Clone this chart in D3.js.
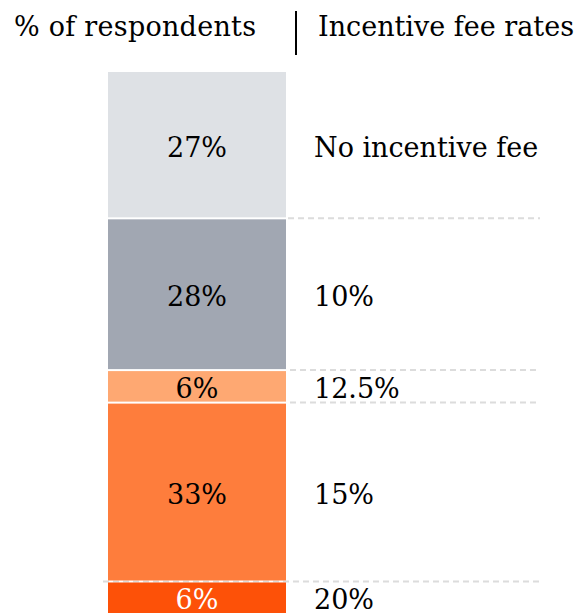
<!DOCTYPE html>
<html>
<head>
<meta charset="utf-8">
<script src="https://cdn.jsdelivr.net/npm/d3@7"></script>
<style>
  body { margin: 0; background: #fff; }
  text { font-family: Georgia, "DejaVu Serif", serif; }
</style>
</head>
<body>
<div id="chart"></div>
<script>
// data, top to bottom
const rates = ["No incentive fee", "10%", "12.5%", "15%", "20%"];
const shares = [27, 28, 6, 33, 6];
const shareLabels = ["27%", "28%", "6%", "33%", "6%"];
const colors = ["#dee1e5", "#a1a7b2", "#fea872", "#fe7d3c", "#fd5108"];
const labelColors = ["#000", "#000", "#000", "#000", "#fff"];

const WIDTH = 580;
const HEIGHT = 614;
const bar = { x0: 108, x1: 286 };

const svg = d3.select("#chart").append("svg")
  .attr("width", WIDTH)
  .attr("height", HEIGHT);

// stack the shares
let acc = 0;
const segs = shares.map((v, i) => {
  const s = { i, start: acc, end: acc + v };
  acc += v;
  return s;
});

const y = d3.scaleLinear().domain([0, 100]).range([72, 614]);

// headers
svg.append("text")
  .attr("x", 14).attr("y", 36)
  .attr("font-size", 27)
  .attr("fill", "#000")
  .attr("textLength", 242)
  .text("% of respondents");
svg.append("line")
  .attr("x1", 296).attr("x2", 296)
  .attr("y1", 11).attr("y2", 55)
  .attr("stroke", "#000").attr("stroke-width", 2);
svg.append("text")
  .attr("x", 318).attr("y", 36)
  .attr("font-size", 27)
  .attr("fill", "#000")
  .attr("textLength", 256)
  .text("Incentive fee rates");

// dashed separators between categories
const dashStart = [288, 290, 290, 103];
svg.append("g").selectAll("line")
  .data(segs.slice(1))
  .enter().append("line")
  .attr("x1", (d, i) => dashStart[i])
  .attr("x2", 540)
  .attr("y1", d => y(d.start))
  .attr("y2", d => y(d.start))
  .attr("stroke", "#dcdcdc")
  .attr("stroke-width", 2)
  .attr("stroke-dasharray", "6 4");

// bars
svg.append("g").selectAll("rect")
  .data(segs)
  .enter().append("rect")
  .attr("x", bar.x0)
  .attr("width", bar.x1 - bar.x0)
  .attr("y", d => y(d.start) + (d.i > 0 ? 1 : 0))
  .attr("height", d => y(d.end) - y(d.start) - (d.i > 0 ? 2 : 1))
  .attr("fill", d => colors[d.i]);

// value labels
svg.append("g").selectAll("text")
  .data(segs)
  .enter().append("text")
  .attr("x", (bar.x0 + bar.x1) / 2)
  .attr("y", d => (y(d.start) + y(d.end)) / 2 + 2)
  .attr("dy", "0.35em")
  .attr("text-anchor", "middle")
  .attr("font-size", 27)
  .attr("fill", d => labelColors[d.i])
  .text(d => shareLabels[d.i]);

// category labels
svg.append("g").selectAll("text")
  .data(segs)
  .enter().append("text")
  .attr("x", 314)
  .attr("y", d => (y(d.start) + y(d.end)) / 2 + 2)
  .attr("dy", "0.35em")
  .attr("font-size", 27)
  .attr("fill", "#000")
  .text(d => rates[d.i]);
</script>
</body>
</html>
